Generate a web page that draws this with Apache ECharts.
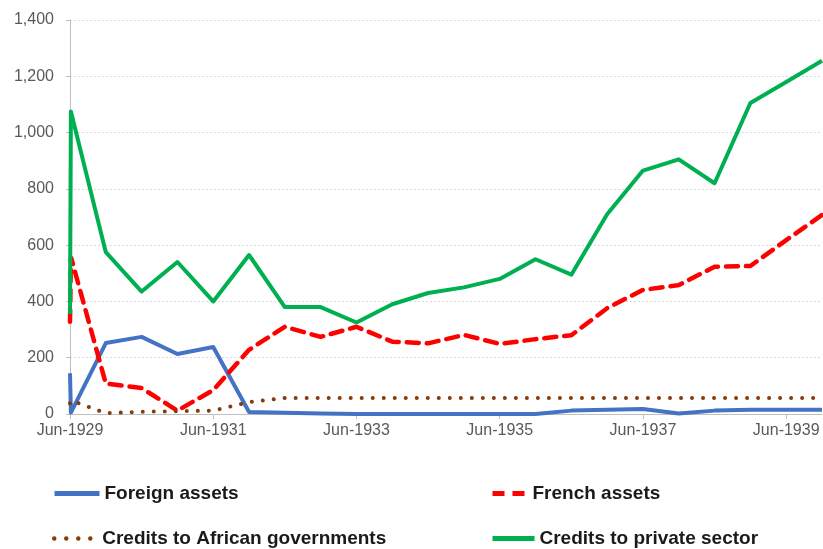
<!DOCTYPE html>
<html>
<head>
<meta charset="utf-8">
<script src="https://cdn.jsdelivr.net/npm/echarts@6/dist/echarts.min.js"></script>
<style>
  html, body { margin: 0; padding: 0; background: #fff; }
  #chart { width: 823px; height: 549px; }
</style>
</head>
<body>
<div id="chart"></div>
<script>
// months after Jun-1929 (the first two points sit on top of each other)
const months = [0, 0.15, 6, 12, 18, 24, 30, 36, 42, 48, 54, 60, 66, 72, 78, 84, 90, 96, 102, 108, 114, 120, 126];
const foreignAssets = [145, 5, 252, 274, 213, 238, 7, 4, 2, 0, 0, 0, 0, 0, 0, 12, 15, 18, 2, 12, 15, 15, 15];
const frenchAssets = [328, 558, 108, 92, 12, 85, 228, 310, 274, 310, 257, 251, 281, 249, 266, 280, 376, 441, 458, 523, 526, 618, 707];
const africanGov = [38, 48, 3, 8, 10, 12, 42, 57, 57, 57, 57, 57, 57, 57, 57, 57, 57, 57, 57, 57, 57, 57, 57];
const privateSector = [355, 1075, 575, 435, 540, 400, 565, 380, 380, 325, 390, 430, 450, 480, 550, 495, 710, 865, 905, 820, 1105, 1180, 1255];
const yTicks = [0, 200, 400, 600, 800, 1000, 1200, 1400];

const pairs = (vals) => months.map((m, i) => [m, vals[i]]);
const font = "'Liberation Sans', Arial, sans-serif";

const legendBase = {
  itemHeight: 14,
  itemStyle: { opacity: 0 },
  textStyle: { fontFamily: font, fontSize: 19, fontWeight: "bold", color: "#1a1a1a" },
};

const option = {
  animation: false,
  grid: { left: 70, right: 1, top: 20, bottom: 135 },
  xAxis: {
    type: "value",
    min: 0,
    max: 126,
    interval: 24,
    axisLine: { lineStyle: { color: "#bfbfbf", width: 1 } },
    axisTick: { show: true, length: 5, lineStyle: { color: "#bfbfbf" } },
    splitLine: { show: false },
    axisLabel: {
      fontFamily: font,
      fontSize: 16,
      color: "#595959",
      margin: 9,
      showMaxLabel: false,
      formatter: (v) => (v % 24 === 0 ? "Jun-" + (1929 + v / 12) : ""),
    },
  },
  yAxis: {
    type: "value",
    min: yTicks[0],
    max: yTicks[yTicks.length - 1],
    interval: 200,
    axisLine: { show: true, lineStyle: { color: "#bfbfbf", width: 1 } },
    axisTick: { show: true, length: 4, lineStyle: { color: "#bfbfbf" } },
    splitLine: { lineStyle: { color: "#d9d9d9", type: [2, 2] } },
    axisLabel: {
      fontFamily: font,
      fontSize: 16,
      color: "#595959",
      margin: 16,
      formatter: (v) => v.toLocaleString("en-US"),
    },
  },
  legend: [
    Object.assign({}, legendBase, {
      data: ["Foreign assets"], left: 47, top: 479, itemWidth: 45,
      lineStyle: { width: 5, cap: "butt" },
    }),
    Object.assign({}, legendBase, {
      data: ["French assets"], left: 485, top: 479, itemWidth: 35,
      lineStyle: { width: 5, type: [12, 8], cap: "butt" },
    }),
    Object.assign({}, legendBase, {
      data: ["Credits to African governments"], left: 47, top: 524, itemWidth: 43,
      lineStyle: { width: 4.5, type: [0.01, 12], cap: "round" },
    }),
    Object.assign({}, legendBase, {
      data: ["Credits to private sector"], left: 485, top: 524, itemWidth: 42,
      lineStyle: { width: 5, cap: "butt" },
    }),
  ],
  series: [
    {
      name: "Foreign assets",
      type: "line",
      data: pairs(foreignAssets),
      symbol: "none",
      itemStyle: { color: "#4472c4" },
      lineStyle: { color: "#4472c4", width: 4, join: "round" },
    },
    {
      name: "French assets",
      type: "line",
      data: pairs(frenchAssets),
      symbol: "none",
      itemStyle: { color: "#ff0000" },
      lineStyle: { color: "#ff0000", width: 4.5, type: [12, 8], cap: "round" },
    },
    {
      name: "Credits to African governments",
      type: "line",
      data: pairs(africanGov),
      symbol: "none",
      itemStyle: { color: "#843c0c" },
      lineStyle: { color: "#843c0c", width: 4, type: [0.01, 11], cap: "round" },
    },
    {
      name: "Credits to private sector",
      type: "line",
      data: pairs(privateSector),
      symbol: "none",
      itemStyle: { color: "#00b050" },
      lineStyle: { color: "#00b050", width: 4, join: "round" },
    },
  ],
};

const chart = echarts.init(document.getElementById("chart"));
chart.setOption(option);
</script>
</body>
</html>
